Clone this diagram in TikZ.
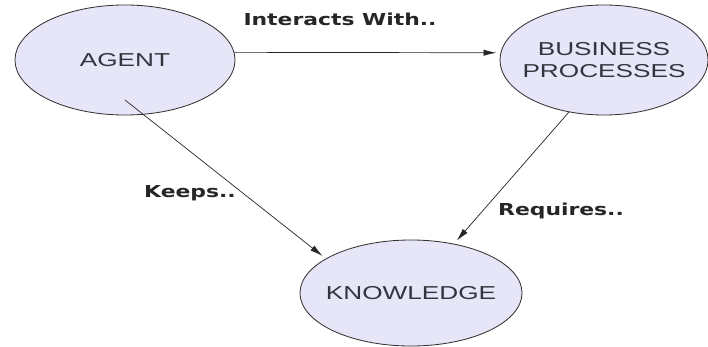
\documentclass[tikz,border=0pt]{standalone}
\usepackage{fontspec}
\usetikzlibrary{arrows.meta,shapes.geometric}
\newfontfamily\conceptfont[FakeStretch=1.4]{Liberation Sans}
\newfontfamily\relationfont[FakeStretch=1.33]{DejaVu Sans}
\definecolor{ConceptFill}{HTML}{E6E6F8}
\definecolor{ConceptText}{HTML}{34343E}

\begin{document}
\begin{tikzpicture}[x=0.025cm,y=-0.025cm,
    concept/.style={ellipse,draw=black!80,line width=0.6pt,fill=ConceptFill,text=ConceptText,
      inner xsep=-6pt,inner ysep=0pt,align=center,font=\conceptfont\fontsize{13.3}{15.6}\selectfont},
    relation/.style={-{Latex[length=9pt,width=4.5pt]},black!85,line width=0.5pt,shorten >=3pt},
    relabel/.style={font=\relationfont\bfseries\fontsize{11.7}{14}\selectfont,text=black!85}]
    \useasboundingbox (0,0) rectangle (708,347);
    % the three concepts
    \node[concept,minimum width=5.5cm,minimum height=2.75cm] (agent) at (125,60) {AGENT};
    \node[concept,minimum width=5.2cm,minimum height=2.75cm] (business) at (604,60) {BUSINESS\\PROCESSES};
    \node[concept,minimum width=5.55cm,minimum height=2.65cm] (knowledge) at (411,293) {KNOWLEDGE};
    \coordinate (agentin) at (125,100);
    % relations
    \draw[relation] (agent.4) -- (business.176);
    \draw[relation] (agentin) -- (knowledge.158);
    \draw[relation] (business.236) -- (knowledge);
    \node[relabel] (interacts) at (340,19) {Interacts With..};
    \node[relabel] (keeps) at (190,193) {Keeps..};
    \node[relabel] (requires) at (561,211) {Requires..};
\end{tikzpicture}
\end{document}
